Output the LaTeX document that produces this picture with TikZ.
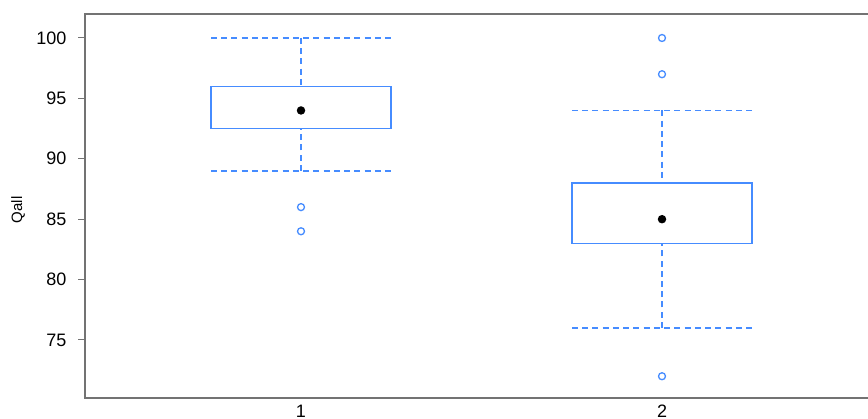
\documentclass[tikz,border=0pt]{standalone}
\usepackage{fontspec}
\setmainfont{Liberation Sans}
\definecolor{boxblue}{RGB}{70,140,255}
\begin{document}
\begin{tikzpicture}[x=1pt,y=1pt,
  axisline/.style={draw=black!55, line width=1.6pt},
  boxline/.style={draw=boxblue, line width=1.1pt},
  whisk/.style={draw=boxblue, line width=1.3pt, dash pattern=on 6pt off 4.235pt},
  outlier/.style={circle, draw=boxblue, line width=1.3pt, inner sep=0pt, minimum size=7pt},
  meddot/.style={circle, fill=black, inner sep=0pt, minimum size=8.5pt},
  ticklab/.style={font=\fontsize{18}{18}\selectfont}]
\useasboundingbox (0,0) rectangle (868,419);
\draw[axisline] (880,405) -- (85,405) -- (85,21) -- (880,21);
\node[rotate=90, font=\fontsize{15}{15}\selectfont] (ylab) at (18,209) {Qall};
\node[ticklab, anchor=base, inner sep=0pt] (x1) at (301,1) {1};
\node[ticklab, anchor=base, inner sep=0pt] (x2) at (662,1) {2};
\begin{scope}[yshift=-827pt, y=12.08pt]
% y axis ticks
\foreach \v in {75,80,...,100} {
  \draw[axisline, line width=1pt] (78,\v) -- (85,\v);
  \node[ticklab, anchor=east] (t\v) at (70,\v) {\v};
}
% group 1
\draw[boxline] (211,92.5) rectangle (391,96);
\draw[whisk] (301,100) -- (301,96);
\draw[whisk] (301,89) -- (301,92.5);
\draw[whisk] (211,100) -- (391,100);
\draw[whisk] (211,89) -- (391,89);
\node[meddot] (m1) at (301,94) {};
\node[outlier] (o1a) at (301,86) {};
\node[outlier] (o1b) at (301,84) {};
% group 2
\draw[boxline] (572,83) rectangle (752,88);
\draw[whisk] (662,94) -- (662,88);
\draw[whisk] (662,76) -- (662,83);
\draw[whisk] (572,94) -- (752,94);
\draw[whisk] (572,76) -- (752,76);
\node[meddot] (m2) at (662,85) {};
\node[outlier] (o2a) at (662,100) {};
\node[outlier] (o2b) at (662,97) {};
\node[outlier] (o2c) at (662,72) {};
\end{scope}
\end{tikzpicture}
\end{document}
